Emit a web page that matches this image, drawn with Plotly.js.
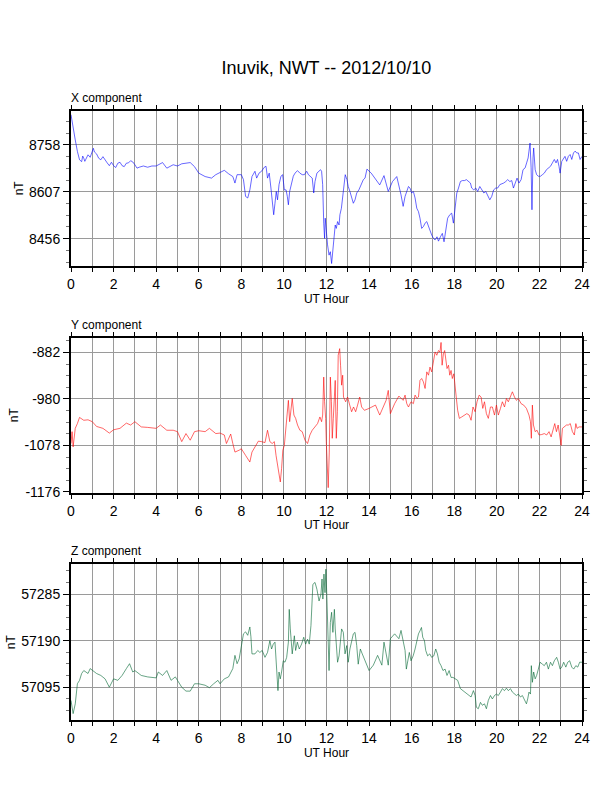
<!DOCTYPE html>
<html>
<head>
<meta charset="utf-8">
<script src="https://cdn.plot.ly/plotly-3.0.1.min.js"></script>
<style>
  html, body { margin: 0; padding: 0; background: #fff; }
  #chart { width: 612px; height: 792px; }
</style>
</head>
<body>
<div id="chart"></div>
<script>
// UT hours and field values (nT)
const xHours = [0, 0.1, 0.2, 0.3, 0.4, 0.5, 0.55, 0.6, 0.65, 0.7, 0.8, 0.9, 1.0, 1.05, 1.1, 1.2, 1.3, 1.4, 1.5, 1.6,
  1.7, 1.8, 1.9, 2.0, 2.1, 2.2, 2.3, 2.4, 2.5, 2.6, 2.7, 2.8, 2.9, 3.0, 3.1, 3.2, 3.4, 3.6, 3.8, 4.0,
  4.3, 4.5, 4.8, 5.0, 5.2, 5.6, 5.8, 6.0, 6.3, 6.6, 6.8, 7.0, 7.2, 7.4, 7.6, 7.7, 7.8, 8.0, 8.1, 8.2,
  8.3, 8.4, 8.5,
  8.64, 8.72, 8.83, 8.95, 9.08, 9.16, 9.23, 9.31, 9.39, 9.45, 9.52, 9.58, 9.64, 9.70, 9.77, 9.86, 9.94, 10.02, 10.10, 10.16,
  10.21, 10.27, 10.36, 10.44, 10.52, 10.64, 10.75, 10.86, 10.96, 11.07, 11.15, 11.24, 11.33, 11.40, 11.46, 11.55, 11.66, 11.72, 11.77, 11.82,
  11.87, 11.91, 11.94, 11.99, 12.05, 12.12, 12.18, 12.24, 12.30, 12.35, 12.41, 12.46, 12.52, 12.59, 12.63, 12.70, 12.76, 12.82, 12.88, 12.96,
  13.02, 13.10, 13.18, 13.26, 13.34, 13.42, 13.52, 13.62, 13.73, 13.81,
  13.9, 14.1, 14.3, 14.5, 14.7, 14.9, 15.1, 15.3, 15.5, 15.6,
  15.69, 15.77, 15.85, 15.92, 16.00, 16.08, 16.16, 16.24, 16.32, 16.39, 16.47, 16.55, 16.63, 16.71, 16.79, 16.86, 16.94, 17.02, 17.10, 17.19,
  17.26, 17.35, 17.44, 17.52, 17.60, 17.69, 17.79, 17.88, 17.96, 18.04, 18.12, 18.20, 18.29, 18.38, 18.48, 18.57, 18.66, 18.76, 18.82, 18.92,
  19.01, 19.10, 19.20, 19.29, 19.39, 19.48, 19.57, 19.67, 19.76, 19.85, 19.95, 20.04, 20.14, 20.23, 20.32, 20.42, 20.51, 20.61, 20.70, 20.78,
  20.86, 20.95, 21.04, 21.14, 21.23, 21.33, 21.40, 21.47, 21.51, 21.56, 21.61, 21.65, 21.70, 21.73, 21.80, 21.87, 21.95, 22.05, 22.14, 22.23,
  22.33, 22.42, 22.52, 22.61, 22.70, 22.78, 22.85, 22.92, 22.97, 23.05, 23.13, 23.20, 23.28, 23.36, 23.44, 23.52, 23.60, 23.68, 23.75, 23.83,
  23.91, 24.0];
const xVals = [8855, 8806, 8774, 8737, 8710, 8704, 8722, 8715, 8705, 8712, 8726, 8718, 8740, 8747, 8735, 8729, 8715, 8710, 8720, 8708,
  8700, 8691, 8702, 8691, 8685, 8699, 8702, 8691, 8688, 8699, 8700, 8707, 8703, 8694, 8683, 8686, 8690, 8686, 8690, 8690,
  8701, 8683, 8694, 8690, 8697, 8701, 8688, 8667, 8656, 8651, 8662, 8669, 8676, 8665, 8656, 8635, 8662, 8662, 8646, 8592,
  8587, 8613, 8656,
  8673, 8651, 8667, 8673, 8686, 8689, 8651, 8667, 8619, 8587, 8533, 8570, 8608, 8581, 8630, 8657, 8662, 8613, 8613, 8592,
  8565, 8608, 8630, 8657, 8667, 8675, 8667, 8662, 8662, 8673, 8662, 8657, 8651, 8603, 8640, 8667, 8675, 8678, 8673, 8630,
  8506, 8457, 8522, 8473, 8436, 8403, 8414, 8376, 8414, 8446, 8500, 8489, 8511, 8500, 8533, 8554, 8597, 8630, 8662, 8646,
  8624, 8608, 8587, 8570, 8581, 8603, 8613, 8630, 8646, 8651,
  8680, 8667, 8646, 8629, 8659, 8608, 8640, 8656, 8597, 8560,
  8592, 8608, 8624, 8619, 8603, 8608, 8587, 8554, 8543, 8522, 8489, 8495, 8506, 8511, 8495, 8479, 8468, 8457, 8452, 8462,
  8448, 8462, 8473, 8446, 8489, 8522, 8533, 8538, 8506, 8565, 8603, 8619, 8640, 8643, 8643, 8646, 8640, 8635, 8619, 8613,
  8619, 8608, 8624, 8613, 8603, 8608, 8597, 8581, 8592, 8613, 8619, 8619, 8630, 8632, 8635, 8640, 8646, 8640, 8643, 8619,
  8635, 8651, 8635, 8646, 8678, 8684, 8700, 8716, 8738, 8764, 8684, 8549, 8716, 8748, 8678, 8662, 8657, 8657, 8662, 8667,
  8678, 8684, 8689, 8700, 8711, 8700, 8711, 8689, 8667, 8705, 8716, 8721, 8705, 8721, 8727, 8711, 8732, 8738, 8732, 8732,
  8711, 8721];

const yHours = [0, 0.05, 0.1, 0.15, 0.2, 0.3, 0.4, 0.6, 0.8, 1.0, 1.2, 1.5, 1.8, 2.0, 2.3, 2.6, 2.8, 3.0, 3.3, 3.6,
  4.0, 4.2, 4.5, 4.8, 5.0, 5.2, 5.3, 5.4, 5.6, 5.8, 6.0, 6.3, 6.5, 6.8, 7.0, 7.2, 7.3, 7.5, 7.6, 7.7,
  7.9, 8.0, 8.2, 8.4, 8.5,
  8.64, 8.80, 8.95, 9.11, 9.23, 9.34, 9.45, 9.55, 9.63, 9.74, 9.83, 9.89, 9.95, 10.02, 10.13, 10.21, 10.27, 10.33, 10.39, 10.47,
  10.55, 10.64, 10.75, 10.86, 10.99, 11.11, 11.22, 11.33, 11.46, 11.58, 11.69, 11.77, 11.82, 11.87, 11.91, 11.96, 11.99, 12.04, 12.08, 12.13,
  12.18, 12.23, 12.27, 12.32, 12.37, 12.41, 12.46, 12.51, 12.55, 12.62, 12.66, 12.71, 12.76, 12.80, 12.90, 12.99, 13.09, 13.18, 13.27, 13.37,
  13.46, 13.56, 13.65, 13.78,
  14.0, 14.3, 14.5, 14.8, 14.9, 15.0, 15.2, 15.4, 15.6,
  15.69, 15.77, 15.85, 15.97, 16.08, 16.16, 16.25, 16.32, 16.39, 16.47, 16.55, 16.63, 16.71, 16.79, 16.86, 16.94, 17.02, 17.10, 17.18, 17.26,
  17.33, 17.38, 17.43, 17.49, 17.55, 17.60, 17.66, 17.73, 17.79, 17.85, 17.91, 17.98, 18.04, 18.10, 18.16, 18.24, 18.35, 18.48, 18.59, 18.70,
  18.79, 18.88, 18.98, 19.07, 19.17, 19.26, 19.34, 19.42, 19.51, 19.60, 19.70, 19.79, 19.89, 19.98, 20.07, 20.17, 20.26, 20.36, 20.45, 20.54,
  20.64, 20.73, 20.83, 20.92, 21.01, 21.14, 21.26, 21.39, 21.51, 21.58, 21.62, 21.67, 21.72, 21.80, 21.89, 21.98, 22.11, 22.23, 22.34, 22.45,
  22.55, 22.64, 22.72, 22.80, 22.88, 22.95, 23.02, 23.08, 23.17, 23.27, 23.36, 23.45, 23.55, 23.64, 23.71, 23.77, 23.86, 24.0];
const yVals = [-1074, -1049, -1081, -1060, -1042, -1032, -1019, -1025, -1024, -1028, -1038, -1042, -1052, -1045, -1042, -1031, -1035, -1028, -1039, -1040,
  -1042, -1035, -1046, -1046, -1049, -1070, -1060, -1053, -1067, -1049, -1047, -1049, -1042, -1053, -1052, -1056, -1074, -1054, -1074, -1092,
  -1088, -1085, -1099, -1113, -1092,
  -1081, -1069, -1070, -1072, -1046, -1070, -1074, -1070, -1099, -1127, -1155, -1127, -1088, -1078, -1011, -983, -1028, -1007, -979, -1014,
  -1021, -1035, -1046, -1049, -1067, -1074, -1056, -1046, -1039, -1032, -1018, -1028, -1014, -934, -986, -1021, -1070, -1127, -1167, -1092,
  -934, -986, -1063, -1021, -972, -941, -1063, -1007, -888, -874, -909, -951, -930, -976, -986, -976, -993, -1007, -997, -1007,
  -993, -976, -997, -1004,
  -1000, -993, -1014, -983, -962, -1011, -990, -974, -983,
  -972, -990, -997, -986, -990, -972, -979, -976, -941, -937, -944, -958, -923, -930, -913, -923, -899, -881, -888, -878,
  -881, -861, -909, -885, -878, -899, -916, -909, -930, -920, -937, -927, -962, -979, -1004, -1021, -1018, -1014, -1011, -1014,
  -1025, -997, -1007, -986, -972, -976, -1000, -986, -1011, -1021, -997, -997, -1014, -993, -1014, -1000, -986, -997, -979, -986,
  -976, -965, -976, -983, -979, -990, -993, -1000, -1014, -1028, -1063, -993, -1035, -1049, -1046, -1056, -1055, -1053, -1056, -1049,
  -1060, -1046, -1032, -1049, -1035, -1056, -1078, -1042, -1039, -1035, -1035, -1032, -1049, -1056, -1032, -1042, -1039, -1039];

const zHours = [0, 0.05, 0.1, 0.2, 0.3, 0.4, 0.5, 0.6, 0.8, 0.9, 1.0, 1.2, 1.4, 1.6, 1.8, 2.0, 2.2, 2.4, 2.6, 2.75,
  2.9, 3.0, 3.3, 3.6, 4.0, 4.1, 4.3, 4.5, 4.7, 4.9, 5.0, 5.2, 5.4, 5.6, 5.8, 6.0, 6.3, 6.5, 6.7, 6.9,
  7.0, 7.2, 7.4, 7.6, 7.7, 7.8, 7.9, 8.0, 8.1, 8.2, 8.3, 8.4, 8.45, 8.5,
  8.64, 8.77, 8.87, 8.98, 9.11, 9.23, 9.34, 9.42, 9.50, 9.58, 9.64, 9.67, 9.72, 9.77, 9.83, 9.89, 9.97, 10.05, 10.13, 10.21,
  10.25, 10.30, 10.35, 10.39, 10.49, 10.55, 10.63, 10.72, 10.83, 10.93, 11.02, 11.11, 11.19, 11.27, 11.36, 11.46, 11.55, 11.65, 11.74, 11.79,
  11.83, 11.88, 11.93, 11.97, 12.02, 12.07, 12.12, 12.18, 12.24, 12.30, 12.37, 12.41, 12.46, 12.52, 12.59, 12.65, 12.71, 12.79, 12.87, 12.95,
  13.02, 13.10, 13.18, 13.26, 13.34, 13.42, 13.49, 13.59, 13.68, 13.78,
  14.0, 14.2, 14.4, 14.6, 14.7, 14.9, 15.0, 15.2, 15.4, 15.5,
  15.69, 15.75, 15.82, 15.89, 15.97, 16.07, 16.16, 16.24, 16.32, 16.39, 16.46, 16.52, 16.60, 16.66, 16.75, 16.85, 16.94, 17.04, 17.13, 17.21,
  17.29, 17.38, 17.47, 17.57, 17.66, 17.76, 17.85, 17.94, 18.04, 18.16, 18.29, 18.41, 18.54, 18.66, 18.79, 18.90, 18.98, 19.04, 19.13, 19.23,
  19.32, 19.42, 19.51, 19.60, 19.70, 19.79, 19.89, 19.98, 20.07, 20.17, 20.26, 20.36, 20.45, 20.54, 20.64, 20.73, 20.83, 20.92, 21.01, 21.11,
  21.20, 21.29, 21.39, 21.45, 21.51, 21.58, 21.62, 21.67, 21.73, 21.80, 21.87, 21.95, 22.03, 22.14, 22.23, 22.33, 22.42, 22.52, 22.61, 22.70,
  22.81, 22.89, 22.97, 23.05, 23.14, 23.24, 23.33, 23.42, 23.52, 23.61, 23.71, 23.80, 23.89, 24.0];
const zVals = [57068, 57054, 57041, 57061, 57102, 57109, 57123, 57129, 57123, 57133, 57129, 57123, 57119, 57112, 57095, 57112, 57109, 57119, 57133, 57143,
  57126, 57129, 57119, 57116, 57114, 57126, 57119, 57129, 57109, 57116, 57109, 57095, 57087, 57087, 57102, 57102, 57099, 57094, 57102, 57109,
  57102, 57112, 57116, 57133, 57160, 57143, 57153, 57177, 57204, 57208, 57201, 57218, 57198, 57163,
  57163, 57170, 57166, 57170, 57156, 57166, 57190, 57173, 57183, 57187, 57153, 57132, 57088, 57126, 57112, 57126, 57149, 57146, 57156, 57187,
  57254, 57214, 57173, 57163, 57200, 57170, 57187, 57173, 57183, 57197, 57183, 57193, 57183, 57221, 57305, 57309, 57295, 57271, 57285, 57316,
  57275, 57326, 57288, 57336, 57275, 57214, 57129, 57227, 57248, 57207, 57254, 57214, 57180, 57146, 57159, 57187, 57214, 57207, 57163, 57180,
  57146, 57173, 57187, 57204, 57207, 57180, 57142, 57173, 57163, 57153,
  57129, 57140, 57160, 57140, 57187, 57140, 57194, 57204, 57194, 57211,
  57170, 57132, 57153, 57166, 57149, 57159, 57173, 57190, 57204, 57210, 57217, 57197, 57190, 57170, 57159, 57163, 57156, 57159, 57173, 57163,
  57146, 57139, 57129, 57132, 57119, 57129, 57115, 57115, 57112, 57109, 57092, 57088, 57085, 57081, 57075, 57088, 57078, 57054, 57051, 57064,
  57058, 57061, 57051, 57068, 57078, 57071, 57078, 57081, 57078, 57085, 57092, 57088, 57093, 57088, 57092, 57085, 57081, 57078, 57081, 57075,
  57078, 57068, 57061, 57071, 57085, 57081, 57139, 57105, 57126, 57112, 57119, 57132, 57146, 57142, 57139, 57146, 57132, 57146, 57139, 57149,
  57156, 57146, 57132, 57136, 57146, 57136, 57146, 57149, 57136, 57132, 57139, 57136, 57146, 57146];

const panelNames = ['X component', 'Y component', 'Z component'];
const hourTicks = [0, 2, 4, 6, 8, 10, 12, 14, 16, 18, 20, 22, 24];
const xTickVals = [8456, 8607, 8758];
const yTickVals = [-1176, -1078, -980, -882];
const zTickVals = [57095, 57190, 57285];
const titleText = 'Inuvik, NWT -- 2012/10/10';

const W = 612, H = 792;
const font = 'Liberation Sans, Arial, Helvetica, sans-serif';

// panel top/bottom in pixels
const panels = [
  { top: 110.7, bottom: 266, range: [8368, 8868], ticks: xTickVals, step: 151 },
  { top: 337.7, bottom: 492.7, range: [-1177.6, -851], ticks: yTickVals, step: 98 },
  { top: 564.3, bottom: 720, range: [57028, 57346], ticks: zTickVals, step: 95 }
];

const traces = [
  { x: xHours, y: xVals, xaxis: 'x', yaxis: 'y', line: { color: '#0000ff', width: 0.6 } },
  { x: yHours, y: yVals, xaxis: 'x2', yaxis: 'y2', line: { color: '#ff0000', width: 0.6 } },
  { x: zHours, y: zVals, xaxis: 'x3', yaxis: 'y3', line: { color: '#006633', width: 0.6 } }
].map(t => Object.assign({ type: 'scatter', mode: 'lines', hoverinfo: 'skip' }, t));

const layout = {
  width: W, height: H,
  margin: { l: 71, r: 30, t: 0, b: 0 },
  paper_bgcolor: '#fff', plot_bgcolor: '#fff',
  showlegend: false,
  font: { family: font, color: '#000' },
  title: {
    text: titleText,
    font: { size: 18, family: font, color: '#000' },
    xref: 'paper', x: 0.5, yref: 'container', y: 1 - 68 / H, yanchor: 'middle'
  },
  annotations: []
};

panels.forEach((p, i) => {
  const n = i === 0 ? '' : String(i + 1);
  const dom = [1 - p.bottom / H, 1 - p.top / H];
  layout['xaxis' + n] = {
    anchor: 'y' + n,
    range: [0, 24],
    tickmode: 'array', tickvals: hourTicks,
    ticks: 'outside', ticklen: 4, tickcolor: '#000',
    tickfont: { size: 14, family: font },
    showgrid: true, gridcolor: '#9a9a9a', gridwidth: 1,
    minor: { tickmode: 'linear', dtick: 1, tick0: 0, showgrid: true, gridcolor: '#9a9a9a', gridwidth: 1, ticks: 'outside', ticklen: 4, tickcolor: '#000' },
    showline: true, linecolor: '#000', linewidth: 2, mirror: 'allticks',
    zeroline: false,
    title: { text: 'UT Hour', font: { size: 12, family: font }, standoff: 2 }
  };
  layout['yaxis' + n] = {
    anchor: 'x' + n,
    domain: dom,
    range: p.range,
    tickmode: 'array', tickvals: p.ticks, ticktext: p.ticks.map(String),
    ticks: 'outside', ticklen: 6, tickcolor: '#000',
    tickfont: { size: 14, family: font },
    showgrid: true, gridcolor: '#9a9a9a', gridwidth: 1,
    minor: { tickmode: 'linear', tick0: p.ticks[0], dtick: p.step / 4, ticks: 'outside', ticklen: 3, tickcolor: '#777', showgrid: false },
    showline: true, linecolor: '#000', linewidth: 2, mirror: 'allticks',
    zeroline: false,
    title: { text: 'nT', font: { size: 12, family: font }, standoff: 3 }
  };
  layout.annotations.push({
    text: panelNames[i], xref: 'paper', yref: 'paper',
    x: 0, y: dom[1] + 4 / H, xanchor: 'left', yanchor: 'bottom', xshift: -2,
    showarrow: false, font: { size: 12, family: font, color: '#000' }
  });
});

Plotly.newPlot('chart', traces, layout, { staticPlot: true, displayModeBar: false });
</script>
</body>
</html>
